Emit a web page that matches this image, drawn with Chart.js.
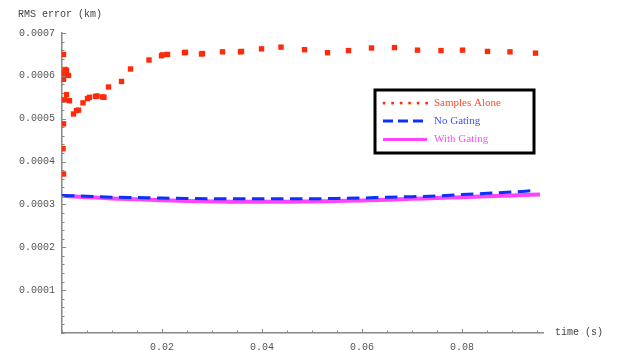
<!DOCTYPE html>
<html>
<head>
<meta charset="utf-8">
<script src="https://cdn.jsdelivr.net/npm/chart.js@4/dist/chart.umd.min.js"></script>
<style>
html,body{margin:0;padding:0;background:#fff;}
#wrap{width:622px;height:351px;position:relative;}
</style>
</head>
<body>
<div id="wrap"><canvas id="c" width="622" height="351"></canvas></div>
<script>
// ---- data ----
const samplesT = [0.0003,0.0009,0.0005,0.0013,0.0003,0.0009,0.0005,0.0015,0.0023,0.0029,0.0033,0.0042,0.0051,0.0055,0.0067,0.0070,0.0081,0.0084,0.0093,0.0119,0.0137,0.0174,0.0199,0.0201,0.0211,0.0245,0.0247,0.0279,0.0281,0.0321,0.0357,0.0359,0.0399,0.0438,0.0485,0.0531,0.0573,0.0619,0.0665,0.0711,0.0758,0.0801,0.0851,0.0896,0.0947,0.0003,0.0002,0.0003,0.0006,0.0003];
const samplesRMS = [0.000650,0.000613,0.000608,0.000601,0.000592,0.000556,0.000544,0.000542,0.000511,0.000519,0.000520,0.000537,0.000547,0.000550,0.000552,0.000553,0.000551,0.000550,0.000574,0.000587,0.000616,0.000637,0.000647,0.000649,0.000650,0.000654,0.000655,0.000651,0.000652,0.000656,0.000656,0.000657,0.000663,0.000667,0.000661,0.000654,0.000659,0.000665,0.000666,0.000660,0.000659,0.000660,0.000657,0.000656,0.000653,0.000488,0.000430,0.000371,0.000615,0.000600];
const lineT = [0,0.005,0.01,0.015,0.02,0.025,0.03,0.035,0.04,0.045,0.05,0.055,0.06,0.065,0.07,0.075,0.08,0.085,0.09,0.094];
const noGating = [0.000321,0.000319,0.000317,0.000316,0.000315,0.000314,0.000313,0.000313,0.000313,0.000313,0.000313,0.000314,0.000315,0.000317,0.000318,0.000320,0.000323,0.000326,0.000329,0.000332];
const gatingT = [0,0.005,0.01,0.015,0.02,0.025,0.03,0.035,0.04,0.045,0.05,0.055,0.06,0.065,0.07,0.075,0.08,0.085,0.09,0.0956];
const withGating = [0.000320,0.000317,0.000314,0.000312,0.000310,0.000308,0.000307,0.000306,0.000306,0.000306,0.000307,0.000308,0.000309,0.000311,0.000313,0.000315,0.000317,0.000319,0.000321,0.000323];
const seriesNames = ['Samples Alone','No Gating','With Gating'];
const xTickValues = [0,0.005,0.01,0.015,0.02,0.025,0.03,0.035,0.04,0.045,0.05,0.055,0.06,0.065,0.07,0.075,0.08,0.085,0.09,0.095];
const xLabelValues = [0.02,0.04,0.06,0.08];
const yLabelValues = [0.0001,0.0002,0.0003,0.0004,0.0005,0.0006,0.0007];
const xTitle = 'time (s)';
const yTitle = 'RMS error (km)';

const yTickValues = [];
for (let i = 0; i <= 35; i++) yTickValues.push(+(i * 0.00002).toFixed(6));

const RED = '#ff2a0a', BLUE = '#0a32ff', MAG = '#ff44ff';
const monoFont = "10px 'Liberation Mono', 'DejaVu Sans Mono', monospace";

function isLabel(v, list){ return list.some(l => Math.abs(l - v) < 1e-9); }

const tickPlugin = {
  id: 'mmaTicks',
  afterDraw(chart) {
    const ctx = chart.ctx;
    const xs = chart.scales.x, ys = chart.scales.y;
    const ca = chart.chartArea;
    ctx.save();
    ctx.strokeStyle = '#888';
    ctx.lineWidth = 1;
    xs.ticks.forEach(t => {
      const px = Math.round(xs.getPixelForValue(t.value)) + 0.5;
      const len = isLabel(t.value, xLabelValues) ? 4 : 2.5;
      ctx.beginPath(); ctx.moveTo(px, ca.bottom); ctx.lineTo(px, ca.bottom - len); ctx.stroke();
    });
    ys.ticks.forEach(t => {
      const py = Math.round(ys.getPixelForValue(t.value)) + 0.5;
      const len = isLabel(t.value, yLabelValues) ? 4 : 2.5;
      ctx.beginPath(); ctx.moveTo(ca.left, py); ctx.lineTo(ca.left + len, py); ctx.stroke();
    });
    // axis titles
    ctx.fillStyle = '#444';
    ctx.font = monoFont;
    ctx.textBaseline = 'middle';
    ctx.textAlign = 'left';
    ctx.fillText(xTitle, ca.right + 12, ca.bottom - 1);
    ctx.fillText(yTitle, 18, 14);

    // legend box
    const bx = 375, by = 90, bw = 159, bh = 63;
    ctx.fillStyle = '#fff';
    ctx.fillRect(bx, by, bw, bh);
    ctx.strokeStyle = '#000';
    ctx.lineWidth = 3;
    ctx.strokeRect(bx, by, bw, bh);
    const rows = [103, 121, 139.5];
    // red dots
    ctx.fillStyle = RED;
    for (let x = 384; x <= 427; x += 8.5) ctx.fillRect(x - 1.2, rows[0] - 1.2, 2.6, 2.6);
    // blue dashed
    ctx.strokeStyle = BLUE; ctx.lineWidth = 3; ctx.setLineDash([10, 5]);
    ctx.beginPath(); ctx.moveTo(383, rows[1]); ctx.lineTo(428, rows[1]); ctx.stroke();
    ctx.setLineDash([]);
    ctx.strokeStyle = MAG; ctx.lineWidth = 3;
    ctx.beginPath(); ctx.moveTo(383, rows[2]); ctx.lineTo(427, rows[2]); ctx.stroke();
    ctx.font = "11px 'Liberation Serif', 'Times New Roman', serif";
    const cols = ['#ff4a30', '#3b52ff', '#ff4cff'];
    seriesNames.forEach((n, i) => { ctx.fillStyle = cols[i]; ctx.fillText(n, 434, rows[i]); });
    ctx.restore();
  }
};

new Chart(document.getElementById('c'), {
  type: 'scatter',
  data: {
    datasets: [
      {
        label: seriesNames[0],
        data: samplesT.map((t, i) => ({x: t, y: samplesRMS[i]})),
        pointStyle: 'rect', pointRadius: 3.8, pointBorderWidth: 0,
        backgroundColor: RED, borderColor: RED, showLine: false, order: 0
      },
      {
        label: seriesNames[1],
        data: lineT.map((t, i) => ({x: t, y: noGating[i]})),
        showLine: true, borderColor: BLUE, borderWidth: 3, borderDash: [12.5, 6.5],
        pointRadius: 0, cubicInterpolationMode: 'monotone', order: 1
      },
      {
        label: seriesNames[2],
        data: gatingT.map((t, i) => ({x: t, y: withGating[i]})),
        showLine: true, borderColor: MAG, borderWidth: 4,
        pointRadius: 0, cubicInterpolationMode: 'monotone', order: 2
      }
    ]
  },
  options: {
    responsive: false,
    animation: false,
    events: [],
    layout: { padding: { top: 33, right: 79, left: 0, bottom: 0 } },
    plugins: { legend: { display: false }, tooltip: { enabled: false } },
    scales: {
      x: {
        type: 'linear', min: 0, max: 0.0962,
        afterBuildTicks: s => { s.ticks = xTickValues.map(v => ({value: v})); },
        afterFit: s => { s.height = 18; },
        grid: { display: false, drawTicks: false },
        border: { display: true, color: '#888', width: 1.5 },
        ticks: {
          autoSkip: false, maxRotation: 0, padding: 8,
          color: '#555', font: { family: "'Liberation Mono', monospace", size: 10 },
          callback: v => isLabel(v, xLabelValues) ? v.toFixed(2) : ''
        }
      },
      y: {
        type: 'linear', min: 0, max: 0.0007,
        afterBuildTicks: s => { s.ticks = yTickValues.map(v => ({value: v})); },
        afterFit: s => { s.width = 62; },
        grid: { display: false, drawTicks: false },
        border: { display: true, color: '#888', width: 1.5 },
        ticks: {
          autoSkip: false, padding: 7,
          color: '#555', font: { family: "'Liberation Mono', monospace", size: 10 },
          callback: v => isLabel(v, yLabelValues) ? v.toFixed(4) : ''
        }
      }
    }
  },
  plugins: [tickPlugin]
});
</script>
</body>
</html>
